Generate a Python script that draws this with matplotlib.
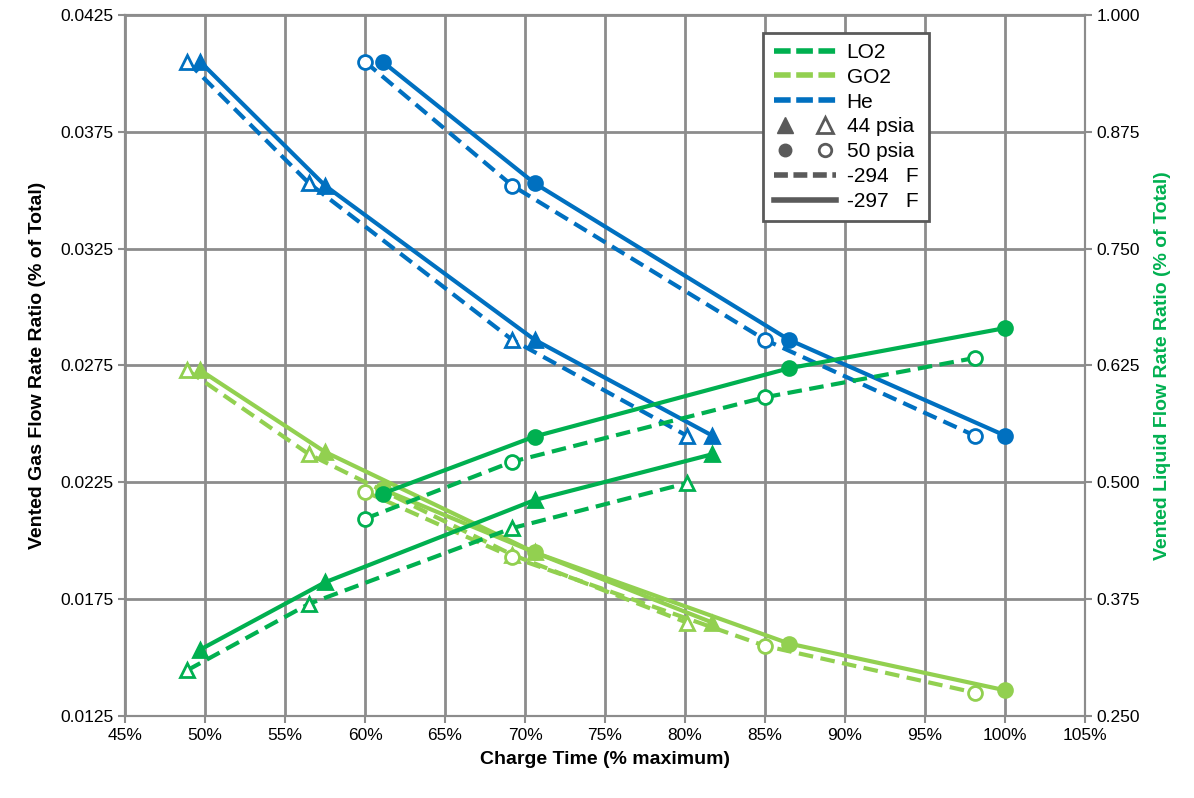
import matplotlib
matplotlib.use("Agg")
import matplotlib.pyplot as plt
from matplotlib.lines import Line2D
from matplotlib.legend_handler import HandlerTuple
from matplotlib.ticker import FuncFormatter

plt.rcParams['font.family'] = ['Liberation Sans', 'DejaVu Sans']

# charge time (% maximum)
x_44_297 = [49.7, 57.5, 70.6, 81.7]
x_44_294 = [48.9, 56.5, 69.2, 80.1]
x_50_297 = [61.1, 70.6, 86.5, 100.0]
x_50_294 = [60.0, 69.2, 85.0, 98.1]

# He vented gas flow rate ratio (left axis)
he_44_297 = [0.0405, 0.0352, 0.0286, 0.0245]
he_44_294 = [0.0405, 0.0353, 0.0286, 0.0245]
he_50_297 = [0.0405, 0.0353, 0.0286, 0.0245]
he_50_294 = [0.0405, 0.0352, 0.0286, 0.0245]

# GO2 vented gas flow rate ratio (left axis)
go2_44_297 = [0.0273, 0.0238, 0.0195, 0.0165]
go2_44_294 = [0.0273, 0.0237, 0.0194, 0.0165]
go2_50_297 = [0.0222, 0.0195, 0.0156, 0.0136]
go2_50_294 = [0.0221, 0.0193, 0.0155, 0.0135]

# LO2 vented liquid flow rate ratio (right axis)
lo2_44_297 = [0.321, 0.393, 0.481, 0.530]
lo2_44_294 = [0.299, 0.370, 0.451, 0.499]
lo2_50_297 = [0.488, 0.549, 0.622, 0.665]
lo2_50_294 = [0.461, 0.522, 0.591, 0.633]

C_LO2 = '#00B050'
C_GO2 = '#92D050'
C_HE = '#0070C0'
GRID = '#8C8C8C'

fig = plt.figure(figsize=(11.94, 7.98), dpi=100)
ax = fig.add_axes([0.1047, 0.1028, 0.8040, 0.8784])
ax2 = ax.twinx()


def draw(a, x, y, color, marker, filled, dashed):
    a.plot(x, y, color=color, lw=3, ls=(0, (3.5, 1.8)) if dashed else '-',
           marker=marker, ms=10,
           markerfacecolor=color if filled else 'white',
           markeredgecolor=color, markeredgewidth=2, zorder=3)


for a, c, data in [
    (ax, C_HE, (he_44_297, he_44_294, he_50_297, he_50_294)),
    (ax, C_GO2, (go2_44_297, go2_44_294, go2_50_297, go2_50_294)),
    (ax2, C_LO2, (lo2_44_297, lo2_44_294, lo2_50_297, lo2_50_294)),
]:
    draw(a, x_44_294, data[1], c, '^', False, True)
    draw(a, x_44_297, data[0], c, '^', True, False)
    draw(a, x_50_294, data[3], c, 'o', False, True)
    draw(a, x_50_297, data[2], c, 'o', True, False)

ax.set_xlim(45, 105)
ax.set_ylim(0.0125, 0.0425)
ax2.set_ylim(0.250, 1.000)
ax.set_xticks(range(45, 106, 5))
ax.set_yticks([0.0125 + 0.005 * i for i in range(7)])
ax2.set_yticks([0.250 + 0.125 * i for i in range(7)])
ax.xaxis.set_major_formatter(FuncFormatter(lambda v, p: f'{v:.0f}%'))
ax.yaxis.set_major_formatter(FuncFormatter(lambda v, p: f'{v:.4f}'))
ax2.yaxis.set_major_formatter(FuncFormatter(lambda v, p: f'{v:.3f}'))

ax.grid(True, color=GRID, lw=2)
ax.set_axisbelow(True)
for a in (ax, ax2):
    for s in a.spines.values():
        s.set_color(GRID)
        s.set_linewidth(1.5)
    a.tick_params(labelsize=12.5, color=GRID, length=5, width=1.5)
ax2.set_zorder(ax.get_zorder() + 1)
ax2.patch.set_visible(False)

ax.set_xlabel('Charge Time (% maximum)', fontsize=14, fontweight='bold', labelpad=6)
ax.set_ylabel('Vented Gas Flow Rate Ratio (% of Total)', fontsize=14,
              fontweight='bold', labelpad=10)
ax2.set_ylabel('Vented Liquid Flow Rate Ratio (% of Total)', fontsize=14,
               fontweight='bold', color=C_LO2, labelpad=10)

grey = '#5A5A5A'
handles = [
    Line2D([], [], color=C_LO2, lw=4, ls=(0, (3, 1))),
    Line2D([], [], color=C_GO2, lw=4, ls=(0, (3, 1))),
    Line2D([], [], color=C_HE, lw=4, ls=(0, (3, 1))),
    (Line2D([], [], ls='', marker='^', ms=11, color=grey),
     Line2D([], [], ls='', marker='^', ms=11, mfc='white', mec=grey, mew=2)),
    (Line2D([], [], ls='', marker='o', ms=9, color=grey),
     Line2D([], [], ls='', marker='o', ms=9, mfc='white', mec=grey, mew=2)),
    Line2D([], [], color=grey, lw=4, ls=(0, (2.5, 1))),
    Line2D([], [], color=grey, lw=4),
]
labels = ['LO2', 'GO2', 'He', '44 psia', '50 psia', '-294   F', '-297   F']
leg = ax2.legend(handles, labels, loc='upper left', bbox_to_anchor=(0.665, 0.975),
                 borderaxespad=0, fontsize=15, frameon=True, fancybox=False,
                 framealpha=1, handlelength=3.0, handletextpad=0.5,
                 labelspacing=0.28, borderpad=0.5,
                 handler_map={tuple: HandlerTuple(ndivide=None, pad=0.8)})
leg.get_frame().set_edgecolor('#5A5A5A')
leg.get_frame().set_linewidth(2)

fig.savefig('out.png', dpi=100)
